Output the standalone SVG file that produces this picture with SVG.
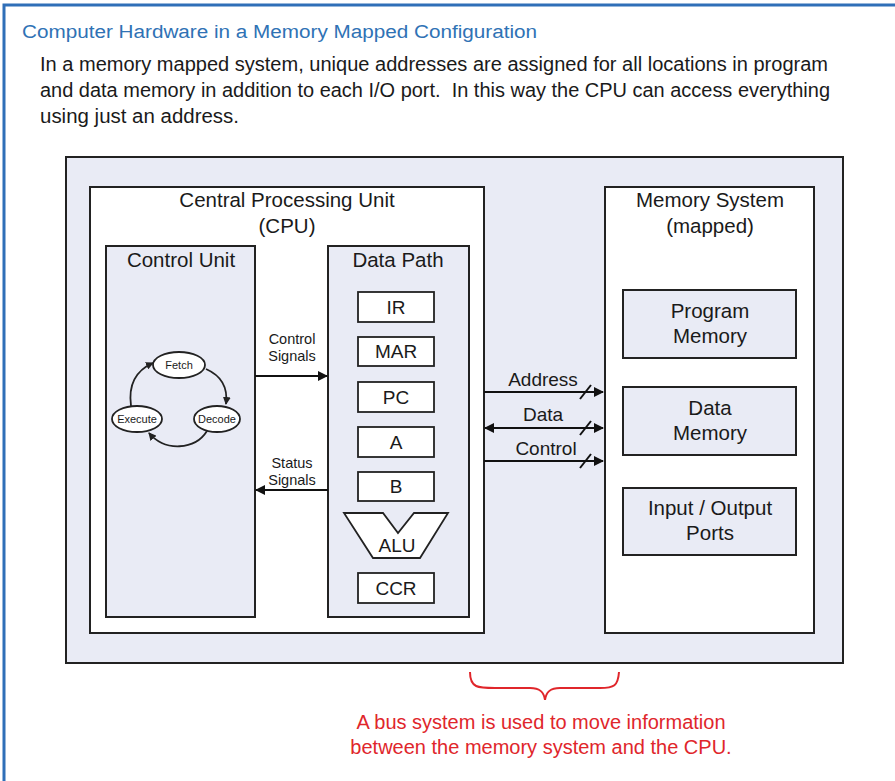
<svg xmlns="http://www.w3.org/2000/svg" width="895" height="781" viewBox="0 0 895 781">
<style>
text{font-family:"Liberation Sans",Arial,sans-serif;fill:#1a1a1a}
.box{stroke:#222;stroke-width:2;fill:#e9ebf5}
.wbox{stroke:#222;stroke-width:2;fill:#fff}
.reg{stroke:#222;stroke-width:1.8;fill:#fff}
.hdr{font-size:20.5px;text-anchor:middle}
.lbl{font-size:19px;text-anchor:middle}
.sm{font-size:14.5px;text-anchor:middle}
.tiny{font-size:11px;text-anchor:middle}
.con{stroke:#111;stroke-width:2;fill:none}
.cyc{stroke:#222;stroke-width:1.8;fill:none}
.red{fill:#e0262b;font-size:20px;text-anchor:middle}
</style>
<defs>
<marker id="ah" markerWidth="10" markerHeight="10" refX="9" refY="5" orient="auto" markerUnits="userSpaceOnUse"><path d="M0,0 L10,5 L0,10 z" fill="#111"/></marker>
<marker id="ahs" markerWidth="8" markerHeight="8" refX="7" refY="4" orient="auto" markerUnits="userSpaceOnUse"><path d="M0,0 L8,4 L0,8 z" fill="#222"/></marker>
<marker id="ahb" markerWidth="10" markerHeight="10" refX="1" refY="5" orient="auto" markerUnits="userSpaceOnUse"><path d="M10,0 L0,5 L10,10 z" fill="#111"/></marker>
</defs>
<rect x="0" y="0" width="895" height="781" fill="#fff"/>
<path d="M4,781 L4,5 L895,5" fill="none" stroke="#2f6fb8" stroke-width="3"/>
<text x="22" y="38" font-size="18" style="fill:#2f72b5" textLength="515" lengthAdjust="spacingAndGlyphs">Computer Hardware in a Memory Mapped Configuration</text>
<text x="40" y="71" font-size="20" textLength="788" lengthAdjust="spacingAndGlyphs">In a memory mapped system, unique addresses are assigned for all locations in program</text>
<text x="40" y="97" font-size="20" xml:space="preserve" style="white-space:pre" textLength="790" lengthAdjust="spacingAndGlyphs">and data memory in addition to each I/O port.  In this way the CPU can access everything</text>
<text x="40" y="123" font-size="20" textLength="199" lengthAdjust="spacingAndGlyphs">using just an address.</text>

<g id="system"><rect class="box" x="66" y="157" width="777" height="506"/></g>
<g id="cpu"><rect class="wbox" x="90" y="187" width="394" height="446"/>
<text class="hdr" x="287" y="207">Central Processing Unit</text>
<text class="hdr" x="287" y="233">(CPU)</text></g>
<g id="memory"><rect class="wbox" x="605" y="187" width="209" height="446"/>
<text class="hdr" x="710" y="207">Memory System</text>
<text class="hdr" x="710" y="233">(mapped)</text></g>

<g id="control-unit"><rect class="box" x="106" y="246" width="149" height="371"/>
<text class="hdr" x="181" y="267">Control Unit</text></g>
<g id="data-path"><rect class="box" x="328" y="246" width="141" height="371"/>
<text class="hdr" x="398" y="267">Data Path</text></g>

<g id="fetch"><ellipse cx="179" cy="365" rx="26" ry="13" fill="#fff" stroke="#222" stroke-width="1.8"/><text class="tiny" x="179" y="369">Fetch</text></g>
<g id="execute"><ellipse cx="137" cy="419" rx="25" ry="13" fill="#fff" stroke="#222" stroke-width="1.8"/><text class="tiny" x="137" y="423">Execute</text></g>
<g id="decode"><ellipse cx="217" cy="419" rx="23" ry="13" fill="#fff" stroke="#222" stroke-width="1.8"/><text class="tiny" x="217" y="423">Decode</text></g>

<g id="ir"><rect class="reg" x="358" y="292" width="76" height="30"/><text class="lbl" x="396" y="314">IR</text></g>
<g id="mar"><rect class="reg" x="358" y="337" width="76" height="29"/><text class="lbl" x="396" y="358">MAR</text></g>
<g id="pc"><rect class="reg" x="358" y="382" width="76" height="30"/><text class="lbl" x="396" y="404">PC</text></g>
<g id="a"><rect class="reg" x="358" y="427" width="76" height="30"/><text class="lbl" x="396" y="449">A</text></g>
<g id="b"><rect class="reg" x="358" y="472" width="76" height="29"/><text class="lbl" x="396" y="493">B</text></g>
<g id="alu"><path class="reg" d="M344,513 L383,513 L398,533 L414,513 L448,513 L420,558 L373,558 Z"/><text class="lbl" x="397" y="552">ALU</text></g>
<g id="ccr"><rect class="reg" x="358" y="573" width="76" height="30"/><text class="lbl" x="396" y="595">CCR</text></g>

<g id="program-memory"><rect class="box" x="623" y="290" width="173" height="68"/><text class="hdr" x="710" y="318">Program</text><text class="hdr" x="710" y="343">Memory</text></g>
<g id="data-memory"><rect class="box" x="623" y="387" width="173" height="68"/><text class="hdr" x="710" y="415">Data</text><text class="hdr" x="710" y="440">Memory</text></g>
<g id="io-ports"><rect class="box" x="623" y="488" width="173" height="67"/><text class="hdr" x="710" y="515">Input / Output</text><text class="hdr" x="710" y="540">Ports</text></g>

<g id="connectors">
<path class="cyc" d="M206,369 C222,376 228,388 226,404" marker-end="url(#ahs)"/>
<path class="cyc" d="M207,431 C195,450 165,452 149,433" marker-end="url(#ahs)"/>
<path class="cyc" d="M131,406 C128,384 137,370 153,363" marker-end="url(#ahs)"/>
<line class="con" x1="255" y1="376" x2="327" y2="376" marker-end="url(#ah)"/>
<text class="sm" x="292" y="344">Control</text><text class="sm" x="292" y="361">Signals</text>
<line class="con" x1="328" y1="490" x2="256" y2="490" marker-end="url(#ah)"/>
<text class="sm" x="292" y="468">Status</text><text class="sm" x="292" y="485">Signals</text>
<line class="con" x1="484" y1="392" x2="603" y2="392" marker-end="url(#ah)"/>
<line class="con" x1="580" y1="399" x2="591" y2="385"/>
<text class="lbl" x="543" y="386">Address</text>
<line class="con" x1="485" y1="428" x2="603" y2="428" marker-start="url(#ahb)" marker-end="url(#ah)"/>
<line class="con" x1="580" y1="435" x2="591" y2="421"/>
<text class="lbl" x="543" y="421">Data</text>
<line class="con" x1="484" y1="461" x2="603" y2="461" marker-end="url(#ah)"/>
<line class="con" x1="580" y1="468" x2="591" y2="454"/>
<text class="lbl" x="546" y="455">Control</text>
</g>
<path d="M470,672 C470,688 478,688 495,688 L530,688 C540,688 544,692 545,700 C546,692 550,688 560,688 L600,688 C614,688 618,686 619,672" fill="none" stroke="#e0262b" stroke-width="2"/>
<text class="red" x="541" y="729">A bus system is used to move information</text>
<text class="red" x="541" y="754">between the memory system and the CPU.</text>
</svg>
